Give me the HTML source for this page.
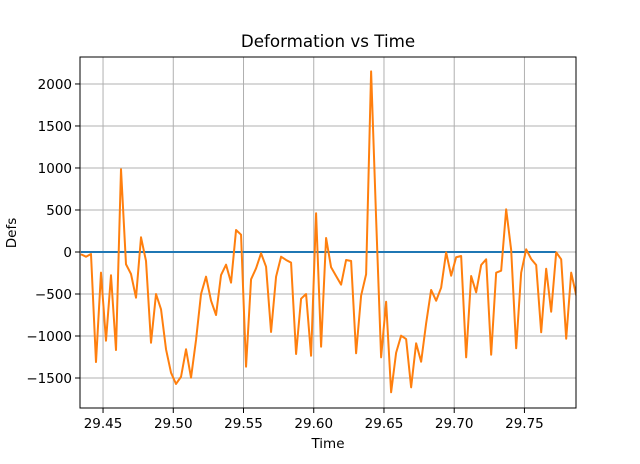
<!DOCTYPE html>
<html><head><meta charset="utf-8"><style>
html,body{margin:0;padding:0;background:#fff;}
svg text{font-family:"DejaVu Sans","Liberation Sans",sans-serif;fill:#000;}
</style></head><body>
<svg id="chart" width="640" height="459" viewBox="0 0 640 459" xmlns="http://www.w3.org/2000/svg">
<rect x="0" y="0" width="640" height="459" fill="#fff"/>
<g id="grid"></g>
<g id="series"></g>
<rect x="80" y="57" width="496" height="351" fill="none" stroke="#000" stroke-width="1"/>
<g id="ticks"></g>
<text x="328" y="47" font-size="16.7" text-anchor="middle">Deformation vs Time</text>
<text x="328" y="448" font-size="13.5" text-anchor="middle">Time</text>
<text x="16" y="233" font-size="13.5" text-anchor="middle" transform="rotate(-90 16 233)">Defs</text>
</svg>
<script>
const xTicks=[29.45,29.50,29.55,29.60,29.65,29.70,29.75];
const xTickLabels=["29.45","29.50","29.55","29.60","29.65","29.70","29.75"];
const yTicks=[-1500,-1000,-500,0,500,1000,1500,2000];
const yTickLabels=["\u22121500","\u22121000","\u2212500","0","500","1000","1500","2000"];
const tStart=29.4343;
const tStep=0.003561;
const defsOrange=[-27,-56,-24,-1310,-246,-1056,-277,-1167,985,-146,-262,-544,175,-107,-1080,-500,-682,-1158,-1437,-1571,-1485,-1158,-1496,-1048,-500,-294,-580,-750,-274,-151,-365,262,206,-1365,-325,-194,-15,-175,-952,-294,-56,-95,-127,-1214,-556,-500,-1235,461,-1127,167,-182,-286,-389,-95,-107,-1206,-520,-265,2150,400,-1254,-592,-1670,-1199,-996,-1036,-1611,-1087,-1306,-849,-452,-580,-425,-4,-282,-63,-48,-1254,-286,-480,-155,-87,-1223,-246,-223,508,24,-1146,-246,32,-83,-155,-956,-199,-711,-4,-87,-1032,-246,-512,-650];
const defsBlue=[0,0,0,0,0,0,0,0,0,0,0,0,0,0,0,0,0,0,0,0,0,0,0,0,0,0,0,0,0,0,0,0,0,0,0,0,0,0,0,0,0,0,0,0,0,0,0,0,0,0,0,0,0,0,0,0,0,0,0,0,0,0,0,0,0,0,0,0,0,0,0,0,0,0,0,0,0,0,0,0,0,0,0,0,0,0,0,0,0,0,0,0,0,0,0,0];
const NS='http://www.w3.org/2000/svg';
const L=80,R=576,T=57,B=408;
const xMin=29.4336,xMax=29.7867,yMin=-1857,yMax=2321;
function sx(t){return L+(t-xMin)/(xMax-xMin)*(R-L);}
function sy(v){return B-(v-yMin)/(yMax-yMin)*(B-T);}
function mk(tag,attrs,parent){const e=document.createElementNS(NS,tag);for(const k in attrs)e.setAttribute(k,attrs[k]);parent.appendChild(e);return e;}
const grid=document.getElementById('grid'),ticks=document.getElementById('ticks'),series=document.getElementById('series');
xTicks.forEach((t,i)=>{const x=sx(t);
 const g=mk('line',{x1:x,x2:x,y1:T,y2:B,stroke:'#b0b0b0','stroke-width':1},grid);
 
 
 const tk=mk('line',{x1:x,x2:x,y1:B,y2:B+5,stroke:'#000','stroke-width':1},ticks);
 
 
 const lb=mk('text',{x:x,y:B+20,'font-size':13.5,'text-anchor':'middle'},ticks);
 lb.textContent=xTickLabels[i];
 
 
});
yTicks.forEach((v,i)=>{const y=sy(v);
 const g=mk('line',{x1:L,x2:R,y1:y,y2:y,stroke:'#b0b0b0','stroke-width':1},grid);
 
 
 const tk=mk('line',{x1:L-5,x2:L,y1:y,y2:y,stroke:'#000','stroke-width':1},ticks);
 
 
 const lb=mk('text',{x:L-8,y:y+5,'font-size':13.5,'text-anchor':'end'},ticks);
 lb.textContent=yTickLabels[i];
 
 
});
const clip=mk('clipPath',{id:'plotclip'},document.getElementById('chart'));
mk('rect',{x:L,y:T,width:R-L,height:B-T},clip);
function pts(arr){return arr.map((v,i)=>sx(tStart+i*tStep).toFixed(2)+','+sy(v).toFixed(2)).join(' ');}
const pb=mk('polyline',{points:pts(defsBlue),fill:'none',stroke:'#1f77b4','stroke-width':2,'clip-path':'url(#plotclip)'},series);


const po=mk('polyline',{points:pts(defsOrange),fill:'none',stroke:'#ff7f0e','stroke-width':2,'stroke-linejoin':'round','clip-path':'url(#plotclip)'},series);


</script>
</body></html>
